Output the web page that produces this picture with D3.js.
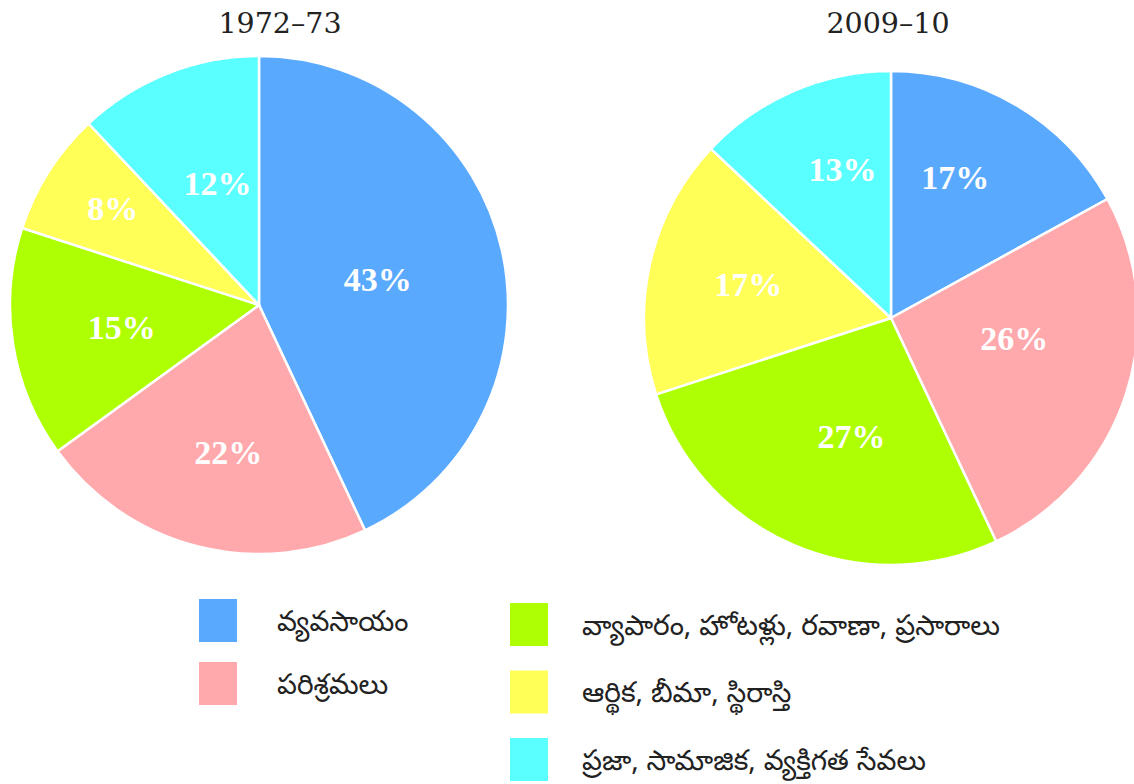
<!DOCTYPE html>
<html>
<head>
<meta charset="utf-8">
<title>pie charts</title>
<style type="text/css">
body {
	margin: 0;
	background: #ffffff;
}
.title {
	font-family: "DejaVu Serif", serif;
	font-size: 28.5px;
	fill: #222;
}
.pct {
	font-family: "Liberation Serif", "Times New Roman", serif;
	font-weight: bold;
	font-size: 34px;
	fill: #ffffff;
}
.legend-text {
	font-family: "Noto Sans Telugu", "Noto Sans", sans-serif;
	font-size: 28px;
	fill: #222;
}
</style>
<script src="https://cdn.jsdelivr.net/npm/d3@7"></script>
</head>
<body>
<div id="chart"></div>
<script type="text/javascript">
	// categories and their colours
	var categories = [ 'వ్యవసాయం', 'పరిశ్రమలు', 'వ్యాపారం, హోటళ్లు, రవాణా, ప్రసారాలు',
			'ఆర్థిక, బీమా, స్థిరాస్తి', 'ప్రజా, సామాజిక, వ్యక్తిగత సేవలు' ];
	var colors = [ '#59a9ff', '#ffa9ad', '#adff02', '#ffff58', '#5affff' ];

	// the two years
	var years = [ '1972–73', '2009–10' ];
	var values1972 = [ 43, 22, 15, 8, 12 ];
	var values2009 = [ 17, 26, 27, 17, 13 ];

	var width = 1134, height = 784;

	// pie placement and small label nudges (label = arc centroid + nudge)
	var pies = [
		{ year: years[0], values: values1972, cx: 259, cy: 305, r: 249, titleX: 280,
			nudge: [ [ -18, 5 ], [ 4, 11 ], [ 1, 0 ], [ -28, -22 ], [ 10, 8 ] ] },
		{ year: years[1], values: values2009, cx: 891, cy: 318, r: 247, titleX: 888,
			nudge: [ [ -7, -20 ], [ -10, -23 ], [ 16, -10 ], [ -6, -3 ], [ 7, -20 ] ] }
	];

	var svg = d3.select('#chart').append('svg')
			.attr('width', width).attr('height', height);

	var pie = d3.pie().sort(null).value(function(d) {
		return d;
	});

	pies.forEach(function(p) {
		var g = svg.append('g').attr('transform', 'translate(' + p.cx + ',' + p.cy + ')');

		var arc = d3.arc().innerRadius(0).outerRadius(p.r);
		var labelArc = d3.arc().innerRadius(140).outerRadius(140);

		var arcs = pie(p.values);

		g.selectAll('path.slice').data(arcs).enter()
				.append('path')
				.attr('class', 'slice')
				.attr('d', arc)
				.attr('fill', function(d, i) {
					return colors[i];
				})
				.attr('stroke', '#ffffff')
				.attr('stroke-width', 2.5)
				.attr('stroke-linejoin', 'round');

		g.selectAll('text.pct').data(arcs).enter()
				.append('text')
				.attr('class', 'pct')
				.attr('text-anchor', 'middle')
				.attr('dy', '0.35em')
				.attr('transform', function(d, i) {
					var c = labelArc.centroid(d);
					return 'translate(' + (c[0] + p.nudge[i][0]) + ',' + (c[1] + p.nudge[i][1]) + ')';
				})
				.text(function(d) {
					return d.data + '%';
				});

		svg.append('text')
				.attr('class', 'title')
				.attr('x', p.titleX)
				.attr('y', 33)
				.attr('text-anchor', 'middle')
				.text(p.year);
	});

	// legend: two items in the left column, three in the right one
	var legendCols = [
		{ x: 199, y: 599, step: 63, textX: 277 },
		{ x: 510, y: 603, step: 67.5, textX: 582 }
	];

	var legend = svg.append('g').attr('class', 'legend');

	var items = legend.selectAll('g.item').data(categories).enter()
			.append('g')
			.attr('class', 'item')
			.attr('transform', function(d, i) {
				var col = legendCols[i < 2 ? 0 : 1];
				var row = i < 2 ? i : i - 2;
				return 'translate(0,' + (col.y + row * col.step) + ')';
			});

	items.append('rect')
			.attr('x', function(d, i) {
				return legendCols[i < 2 ? 0 : 1].x;
			})
			.attr('width', 38)
			.attr('height', 43)
			.attr('fill', function(d, i) {
				return colors[i];
			});

	items.append('text')
			.attr('class', 'legend-text')
			.attr('x', function(d, i) {
				return legendCols[i < 2 ? 0 : 1].textX;
			})
			.attr('y', 22)
			.attr('dy', '0.35em')
			.text(function(d) {
				return d;
			});
</script>
</body>
</html>
